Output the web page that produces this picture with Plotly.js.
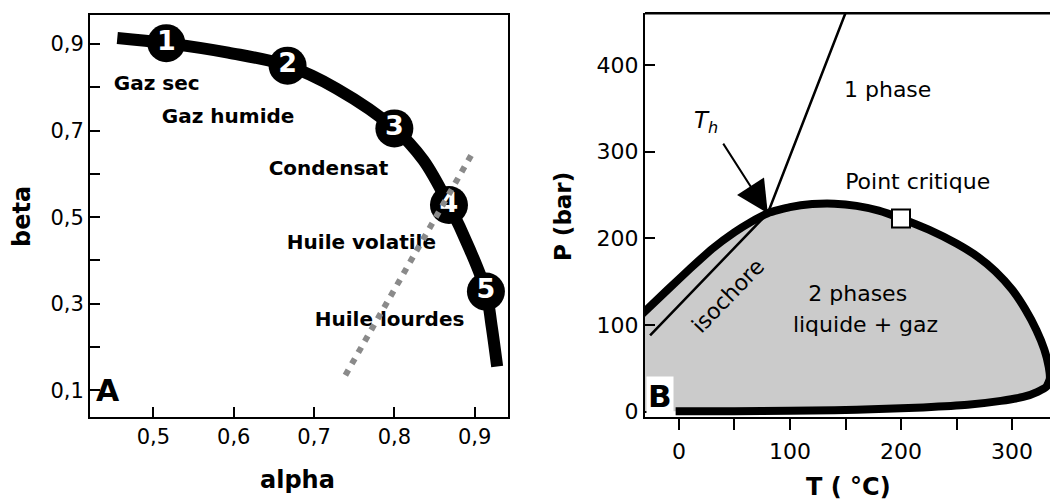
<!DOCTYPE html>
<html>
<head>
<meta charset="utf-8">
<script src="https://cdn.plot.ly/plotly-3.0.1.min.js"></script>
<style>html,body{margin:0;padding:0;background:#fff;}#chart{width:1050px;height:501px;}</style>
</head>
<body>
<div id="chart"></div>
<script>
// ---------- Panel A data ----------
const alphaCurve = [0.455, 0.516, 0.593, 0.667, 0.728, 0.80, 0.836, 0.868, 0.894, 0.914, 0.921, 0.928];
const betaCurve  = [0.914, 0.902, 0.880, 0.85, 0.797, 0.705, 0.632, 0.528, 0.425, 0.328, 0.25, 0.155];
const pointAlpha = [0.516, 0.667, 0.80, 0.868, 0.914];
const pointBeta  = [0.902, 0.85, 0.705, 0.528, 0.328];
const pointLabels = ['1', '2', '3', '4', '5'];
const regionNames = ['Gaz sec', 'Gaz humide', 'Condensat', 'Huile volatile', 'Huile lourdes'];
const regionAlpha = [0.504, 0.593, 0.718, 0.759, 0.794];
const regionBeta  = [0.805, 0.728, 0.609, 0.438, 0.261];
const dottedAlpha = [0.739, 0.896];
const dottedBeta  = [0.135, 0.644];
const alphaTickVals = [0.5, 0.6, 0.7, 0.8, 0.9];
const alphaTickText = ['0,5', '0,6', '0,7', '0,8', '0,9'];
const betaTickVals = [0.1, 0.3, 0.5, 0.7, 0.9];
const betaTickText = ['0,1', '0,3', '0,5', '0,7', '0,9'];
const betaMinorStep = 0.1;

// ---------- Panel B data ----------
const envT = [-33, -10, 10, 30, 50, 65, 80, 100, 120, 140, 160, 180, 200, 225, 250, 270, 285, 300, 312, 322, 329, 333, 334, 331, 323, 310, 290, 260, 220, 180, 140, 100, 50, -3];
const envP = [113, 141, 165, 188, 207, 219, 229, 236, 239.5, 240, 237.5, 232, 223, 210, 194, 178, 162, 141, 118, 94, 72, 52, 38, 29, 23, 17, 12.5, 8, 5, 3, 1.8, 1, 0.6, 0.5];
const fillCloseT = [-33];
const fillCloseP = [0.5];
const thLineT = [-26, 80, 150];
const thLineP = [88, 229, 460];
const critT = [200];
const critP = [223];
const arrowTip = {T: 80, P: 229};
const arrowTail = {T: 39, P: 311};
const bTexts = ['1 phase', 'Point critique', '2 phases', 'liquide + gaz'];
const bTextT = [188, 215, 161, 168];
const bTextP = [369, 263.5, 134.6, 98];
const tTickVals = [0, 100, 200, 300];
const tTickText = ['0', '100', '200', '300'];
const tMinorStep = 50;
const pTickVals = [0, 100, 200, 300, 400];
const pTickText = ['0', '100', '200', '300', '400'];

const FONT = 'DejaVu Sans, Arial, sans-serif';

const traces = [
  // Panel A
  {x: alphaCurve, y: betaCurve, xaxis: 'x', yaxis: 'y', mode: 'lines',
   line: {color: '#000', width: 12, shape: 'spline', smoothing: 1}, hoverinfo: 'skip'},
  {x: pointAlpha, y: pointBeta, xaxis: 'x', yaxis: 'y', mode: 'markers+text', text: pointLabels,
   textposition: 'middle center', textfont: {family: FONT, size: 27, color: '#fff', weight: 'bold'},
   marker: {size: 38, color: '#000'}, hoverinfo: 'skip'},
  {x: regionAlpha, y: regionBeta, xaxis: 'x', yaxis: 'y', mode: 'text', text: regionNames,
   textposition: 'middle center', textfont: {family: FONT, size: 20, color: '#000', weight: 'bold'}, hoverinfo: 'skip'},
  {x: dottedAlpha, y: dottedBeta, xaxis: 'x', yaxis: 'y', mode: 'lines',
   line: {color: '#8a8a8a', width: 6, dash: '6px,7px'}, hoverinfo: 'skip'},
  // Panel B
  {x: envT.concat(fillCloseT), y: envP.concat(fillCloseP), xaxis: 'x2', yaxis: 'y2', mode: 'lines',
   fill: 'toself', fillcolor: '#cbcbcb', line: {width: 0, color: 'rgba(0,0,0,0)', shape: 'spline', smoothing: 0.5}, hoverinfo: 'skip'},
  {x: envT, y: envP, xaxis: 'x2', yaxis: 'y2', mode: 'lines',
   line: {color: '#000', width: 8, shape: 'spline', smoothing: 0.5}, hoverinfo: 'skip'},
  {x: thLineT, y: thLineP, xaxis: 'x2', yaxis: 'y2', mode: 'lines',
   line: {color: '#000', width: 2.5}, hoverinfo: 'skip'},
  {x: critT, y: critP, xaxis: 'x2', yaxis: 'y2', mode: 'markers',
   marker: {symbol: 'square', size: 18, color: '#fff', line: {color: '#000', width: 2}}, hoverinfo: 'skip'},
  {x: bTextT, y: bTextP, xaxis: 'x2', yaxis: 'y2', mode: 'text', text: bTexts,
   textposition: 'middle center', textfont: {family: FONT, size: 22, color: '#000'}, hoverinfo: 'skip'}
];

const axBase = {showgrid: false, zeroline: false, linecolor: '#000', linewidth: 2, tickcolor: '#000',
  tickwidth: 2, fixedrange: true, tickmode: 'array'};

const layout = {
  width: 1050, height: 501, margin: {l: 0, r: 0, t: 0, b: 0},
  paper_bgcolor: '#fff', plot_bgcolor: '#fff', showlegend: false,
  font: {family: FONT, color: '#000'},
  xaxis: Object.assign({}, axBase, {domain: [90/1050, 508/1050], range: [0.421, 0.9415], anchor: 'y',
    showline: true, mirror: true, ticks: 'inside', ticklen: 10,
    tickvals: alphaTickVals, ticktext: alphaTickText, tickfont: {family: FONT, size: 21, color: '#000'}}),
  yaxis: Object.assign({}, axBase, {domain: [1 - 417/501, 1 - 15/501], range: [0.0383, 0.967], anchor: 'x',
    showline: true, mirror: true, ticks: 'inside', ticklen: 10,
    tickvals: betaTickVals, ticktext: betaTickText, tickfont: {family: FONT, size: 21, color: '#000'},
    minor: {tick0: 0.1, dtick: betaMinorStep, ticks: 'inside', ticklen: 10, tickwidth: 2, tickcolor: '#000', showgrid: false}}),
  xaxis2: Object.assign({}, axBase, {domain: [645/1050, 1], range: [-30.6, 334.2], anchor: 'y2',
    showline: true, mirror: false, ticks: 'outside', ticklen: 11, ticklabelstandoff: 3,
    tickvals: tTickVals, ticktext: tTickText, tickfont: {family: FONT, size: 22, color: '#000'},
    minor: {tick0: 0, dtick: tMinorStep, ticks: 'outside', ticklen: 11, tickwidth: 2, tickcolor: '#000', showgrid: false}}),
  yaxis2: Object.assign({}, axBase, {domain: [1 - 417/501, 1 - 13.3/501], range: [-6.1, 459.6], anchor: 'x2',
    showline: true, mirror: false, ticks: 'inside', ticklen: 10,
    tickvals: pTickVals, ticktext: pTickText, tickfont: {family: FONT, size: 22, color: '#000'}}),
  shapes: [
    {type: 'line', xref: 'x2 domain', yref: 'y2 domain', x0: 0, x1: 1, y0: 1, y1: 1,
     line: {color: '#000', width: 2.5}}
  ],
  annotations: [
    {text: '<b>alpha</b>', xref: 'paper', yref: 'paper', x: 297/1050, y: 1 - 480/501, showarrow: false,
     xanchor: 'center', yanchor: 'middle', font: {family: FONT, size: 24}},
    {text: '<b>beta</b>', xref: 'paper', yref: 'paper', x: 22/1050, y: 1 - 217/501, showarrow: false,
     textangle: -90, xanchor: 'center', yanchor: 'middle', font: {family: FONT, size: 24}},
    {text: '<b>T ( °C)</b>', xref: 'paper', yref: 'paper', x: 848/1050, y: 1 - 487/501, showarrow: false,
     xanchor: 'center', yanchor: 'middle', font: {family: FONT, size: 24}},
    {text: '<b>P (bar)</b>', xref: 'paper', yref: 'paper', x: 563/1050, y: 1 - 217/501, showarrow: false,
     textangle: -90, xanchor: 'center', yanchor: 'middle', font: {family: FONT, size: 23}},
    {text: '<b>A</b>', xref: 'paper', yref: 'paper', x: 94/1050, y: 1 - 410/501, showarrow: false,
     xanchor: 'left', yanchor: 'bottom', font: {family: FONT, size: 30}},
    {text: '<b>B</b>', xref: 'paper', yref: 'paper', x: 646/1050, y: 1 - 416/501, showarrow: false,
     xanchor: 'left', yanchor: 'bottom', bgcolor: '#fff', borderpad: 1, font: {family: FONT, size: 31}},
    {text: 'isochore', xref: 'x2', yref: 'y2', x: 44.6, y: 133.5, showarrow: false, textangle: -46,
     xanchor: 'center', yanchor: 'middle', font: {family: FONT, size: 22}},
    {text: '<i>T<sub>h</sub></i>', xref: 'x2', yref: 'y2', x: 24, y: 334, showarrow: false,
     xanchor: 'center', yanchor: 'middle', font: {family: FONT, size: 23}},
    {text: '', xref: 'x2', yref: 'y2', axref: 'x2', ayref: 'y2', x: arrowTip.T, y: arrowTip.P,
     ax: arrowTail.T, ay: arrowTail.P, showarrow: true, arrowhead: 2, arrowsize: 3.2, arrowwidth: 2, arrowcolor: '#000'}
  ]
};

Plotly.newPlot('chart', traces, layout, {displayModeBar: false, staticPlot: true});
</script>
</body>
</html>
